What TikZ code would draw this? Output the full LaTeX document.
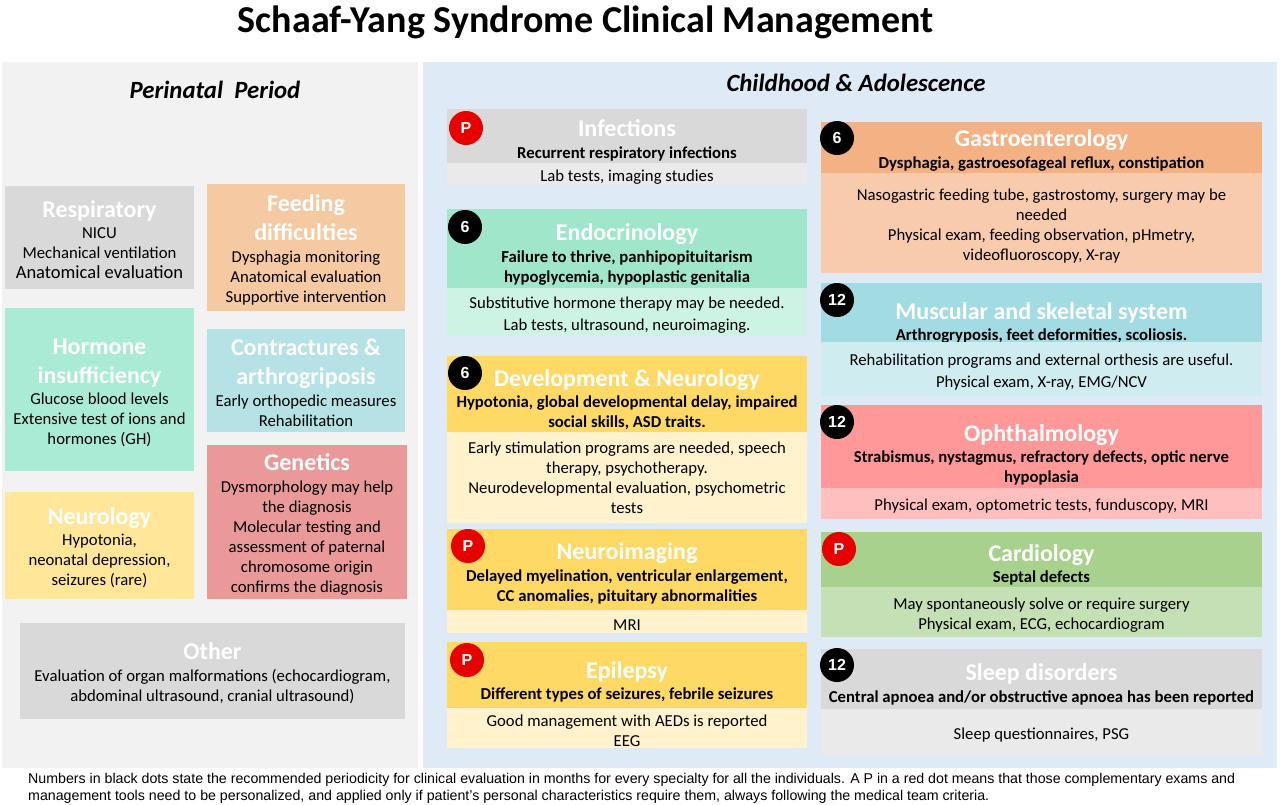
\documentclass[tikz,border=0pt]{standalone}
\usepackage{fontspec}
\setmainfont{Carlito}
\newfontfamily\arialfont{Liberation Sans}
\usetikzlibrary{positioning}

\definecolor{panelgray}{HTML}{F2F2F2}
\definecolor{panelblue}{HTML}{DEEBF7}
\definecolor{grayhead}{HTML}{D9D9D9}
\definecolor{graybody}{HTML}{EAEAEA}
\definecolor{feedcol}{HTML}{F5C9A1}
\definecolor{peachhead}{HTML}{F4B183}
\definecolor{peachbody}{HTML}{F8CBAD}
\definecolor{hormcol}{HTML}{A9EBD5}
\definecolor{minthead}{HTML}{9FE6CA}
\definecolor{mintbody}{HTML}{CCF3E4}
\definecolor{contrcol}{HTML}{B5E2E4}
\definecolor{tealhead}{HTML}{A3DBE2}
\definecolor{tealbody}{HTML}{CFEDF1}
\definecolor{genecol}{HTML}{EA9999}
\definecolor{rosehead}{HTML}{FF9999}
\definecolor{rosebody}{HTML}{FFBFBF}
\definecolor{neurocol}{HTML}{FFE699}
\definecolor{sandhead}{HTML}{FFD966}
\definecolor{sandbody}{HTML}{FFF2CC}
\definecolor{greenhead}{HTML}{A9D18E}
\definecolor{greenbody}{HTML}{C5E0B4}
\definecolor{dotred}{HTML}{E60000}

\newcommand\hdtxt{\color{white}\fontsize{24}{28}\selectfont\bfseries}
% struts that push a centred block a little lower
\newcommand\headstrut{\rule{0pt}{21.5pt}}
\newcommand\bodystrut{\rule{0pt}{17pt}}

\begin{document}
\begin{tikzpicture}[x=1pt, y=-1pt,
    leftbox/.style={fill=#1, align=center, inner sep=0pt, font=\fontsize{16.7}{20}\selectfont},
    headbox/.style={fill=#1, anchor=north, inner sep=0pt, outer sep=0pt},
    headtext/.style={align=center, inner sep=0pt, font=\fontsize{16.7}{20}\selectfont\bfseries},
    bodybox/.style={fill=#1, align=center, inner sep=0pt, outer sep=0pt, font=\fontsize{16.7}{20}\selectfont},
    colA/.style={minimum width=360pt},
    colB/.style={minimum width=441pt},
    pdot/.style={circle, fill=dotred, minimum size=34pt, inner sep=0pt, text=white, font=\arialfont\bfseries\fontsize{16}{16}\selectfont},
    ndot/.style={pdot, fill=black}]
\useasboundingbox (0,0) rectangle (1280,804);

% Title
\node[anchor=base, font=\fontsize{38}{44}\selectfont\bfseries] (title) at (586,32) {Schaaf-Yang Syndrome Clinical Management};

% Period panels
\fill[panelgray] (2,62) rectangle (418,768);
\fill[panelblue] (423,62) rectangle (1277,768);
\node[anchor=base, font=\fontsize{24.8}{28}\selectfont\bfseries\itshape] (perinatal) at (215,98) {Perinatal\ \ Period};
\node[anchor=base, font=\fontsize{24.8}{28}\selectfont\bfseries\itshape] (childhood) at (856,91) {Childhood \& Adolescence};

% Perinatal boxes
\node[leftbox=grayhead, minimum width=189pt, minimum height=103pt] (resp) at (99.5,237.5)
  {{\hdtxt\headstrut Respiratory}\\[1pt] NICU\\ Mechanical ventilation\\ {\fontsize{18.5}{20}\selectfont Anatomical evaluation}};
\node[leftbox=feedcol, minimum width=198pt, minimum height=127pt] (feed) at (306,247.5)
  {{\hdtxt\headstrut Feeding}\\[7pt] {\hdtxt difficulties}\\[2pt] Dysphagia monitoring\\ Anatomical evaluation\\ Supportive intervention};
\node[leftbox=hormcol, minimum width=189pt, minimum height=163pt] (horm) at (99.5,389.5)
  {{\hdtxt\headstrut Hormone}\\[9pt] {\hdtxt insufficiency}\\[1pt] Glucose blood levels\\ Extensive test of ions and\\ hormones (GH)};
\node[leftbox=contrcol, minimum width=198pt, minimum height=103pt] (contr) at (306,380.5)
  {{\hdtxt\headstrut Contractures \&}\\[9pt] {\hdtxt arthrogriposis}\\[2pt] Early orthopedic measures\\ Rehabilitation};
\node[leftbox=genecol, minimum width=200pt, minimum height=154pt] (genet) at (307,522)
  {{\hdtxt\headstrut Genetics}\\[2pt] Dysmorphology may help\\ the diagnosis\\ Molecular testing and\\ assessment of paternal\\ chromosome origin\\ confirms the diagnosis};
\node[leftbox=neurocol, minimum width=189pt, minimum height=107pt] (neuro) at (99.5,545.5)
  {{\hdtxt\headstrut Neurology}\\[1pt] Hypotonia,\\ neonatal depression,\\ seizures (rare)};
\node[leftbox=grayhead, minimum width=385pt, minimum height=96pt] (other) at (212.5,671)
  {{\hdtxt\headstrut Other}\\[2pt] Evaluation of organ malformations (echocardiogram,\\ abdominal ultrasound, cranial ultrasound)};

% Childhood boxes, first column
\node[headbox=grayhead, colA, minimum height=54pt] (infH) at (627,109) {};
\node[headtext, below=10pt of infH.north] (infT)
  {{\hdtxt Infections}\\[2pt] Recurrent respiratory infections};
\node[bodybox=graybody, colA, minimum height=22pt, below=0pt of infH] (infB) {\bodystrut Lab tests, imaging studies};

\node[headbox=minthead, colA, minimum height=79pt] (endoH) at (627,209) {};
\node[headtext, below=14pt of endoH.north] (endoT)
  {{\hdtxt Endocrinology}\\[2pt] Failure to thrive, panhipopituitarism\\ hypoglycemia, hypoplastic genitalia};
\node[bodybox=mintbody, colA, minimum height=48pt, below=0pt of endoH] (endoB)
  {\bodystrut Substitutive hormone therapy may be needed.\\[2pt] Lab tests, ultrasound, neuroimaging.};

\node[headbox=sandhead, colA, minimum height=76pt] (devH) at (627,356) {};
\node[headtext, below=13pt of devH.north] (devT)
  {{\hdtxt Development \& Neurology}\\[1pt] Hypotonia, global developmental delay, impaired\\ social skills, ASD traits.};
\node[bodybox=sandbody, colA, minimum height=91pt, below=0pt of devH] (devB)
  {Early stimulation programs are needed, speech\\ therapy, psychotherapy.\\ Neurodevelopmental evaluation, psychometric\\ tests};

\node[headbox=sandhead, colA, minimum height=81pt] (nimH) at (627,529) {};
\node[headtext, below=13pt of nimH.north] (nimT)
  {{\hdtxt Neuroimaging}\\[2pt] Delayed myelination, ventricular enlargement,\\ CC anomalies, pituitary abnormalities};
\node[bodybox=sandbody, colA, minimum height=23pt, below=0pt of nimH] (nimB) {\bodystrut MRI};

\node[headbox=sandhead, colA, minimum height=66pt] (epiH) at (627,642) {};
\node[headtext, below=19pt of epiH.north] (epiT)
  {{\hdtxt Epilepsy}\\[1pt] Different types of seizures, febrile seizures};
\node[bodybox=sandbody, colA, minimum height=40pt, below=0pt of epiH] (epiB)
  {\bodystrut Good management with AEDs is reported\\ EEG};

% Childhood boxes, second column
\node[headbox=peachhead, colB, minimum height=51pt] (gastH) at (1041.5,122) {};
\node[headtext, below=7pt of gastH.north] (gastT)
  {{\hdtxt Gastroenterology}\\[2pt] Dysphagia, gastroesofageal reflux, constipation};
\node[bodybox=peachbody, colB, minimum height=100pt, below=0pt of gastH] (gastB)
  {\bodystrut Nasogastric feeding tube, gastrostomy, surgery may be\\ needed\\ Physical exam, feeding observation, pHmetry,\\ videofluoroscopy, X-ray};

\node[headbox=tealhead, colB, minimum height=59pt] (muscH) at (1041.5,283) {};
\node[headtext, below=19pt of muscH.north] (muscT)
  {{\hdtxt Muscular and skeletal system}\\[1pt] Arthrogryposis, feet deformities, scoliosis.};
\node[bodybox=tealbody, colB, minimum height=54pt, below=0pt of muscH] (muscB)
  {\bodystrut Rehabilitation programs and external orthesis are useful.\\[2pt] Physical exam, X-ray, EMG/NCV};

\node[headbox=rosehead, colB, minimum height=83pt] (ophH) at (1041.5,405) {};
\node[headtext, below=19pt of ophH.north] (ophT)
  {{\hdtxt Ophthalmology}\\[1pt] Strabismus, nystagmus, refractory defects, optic nerve\\ hypoplasia};
\node[bodybox=rosebody, colB, minimum height=31pt, below=0pt of ophH] (ophB)
  {\bodystrut Physical exam, optometric tests, funduscopy, MRI};

\node[headbox=greenhead, colB, minimum height=55pt] (cardH) at (1041.5,532) {};
\node[headtext, below=12pt of cardH.north] (cardT)
  {{\hdtxt Cardiology}\\[1pt] Septal defects};
\node[bodybox=greenbody, colB, minimum height=50pt, below=0pt of cardH] (cardB)
  {\bodystrut May spontaneously solve or require surgery\\ Physical exam, ECG, echocardiogram};

\node[headbox=grayhead, colB, minimum height=60pt] (sleepH) at (1041.5,649) {};
\node[headtext, below=14pt of sleepH.north] (sleepT)
  {{\hdtxt Sleep disorders}\\[2pt] Central apnoea and/or obstructive apnoea has been reported};
\node[bodybox=graybody, colB, minimum height=46pt, below=0pt of sleepH] (sleepB)
  {\bodystrut Sleep questionnaires, PSG};

% Periodicity dots
\node[pdot] (infP) at (466,128) {P};
\node[ndot] (endoN) at (465,227) {6};
\node[ndot] (devN) at (465,373) {6};
\node[pdot] (nimP) at (468,546) {P};
\node[pdot] (epiP) at (467,660) {P};
\node[ndot] (gastN) at (837,138) {6};
\node[ndot] (muscN) at (837,300) {12};
\node[ndot] (ophN) at (837,422) {12};
\node[pdot] (cardP) at (839,549) {P};
\node[ndot] (sleepN) at (837,665) {12};

% Footnote
\node[anchor=north west, align=left, inner sep=0pt, font=\arialfont\fontsize{14.2}{17}\selectfont] (note) at (28,773)
  {\makebox[1207pt][s]{Numbers in black dots state the recommended periodicity for clinical evaluation in months for every specialty for all the individuals. A P in a red dot means that those complementary exams and}\\
   management tools need to be personalized, and applied only if patient’s personal characteristics require them, always following the medical team criteria.};
\end{tikzpicture}
\end{document}
